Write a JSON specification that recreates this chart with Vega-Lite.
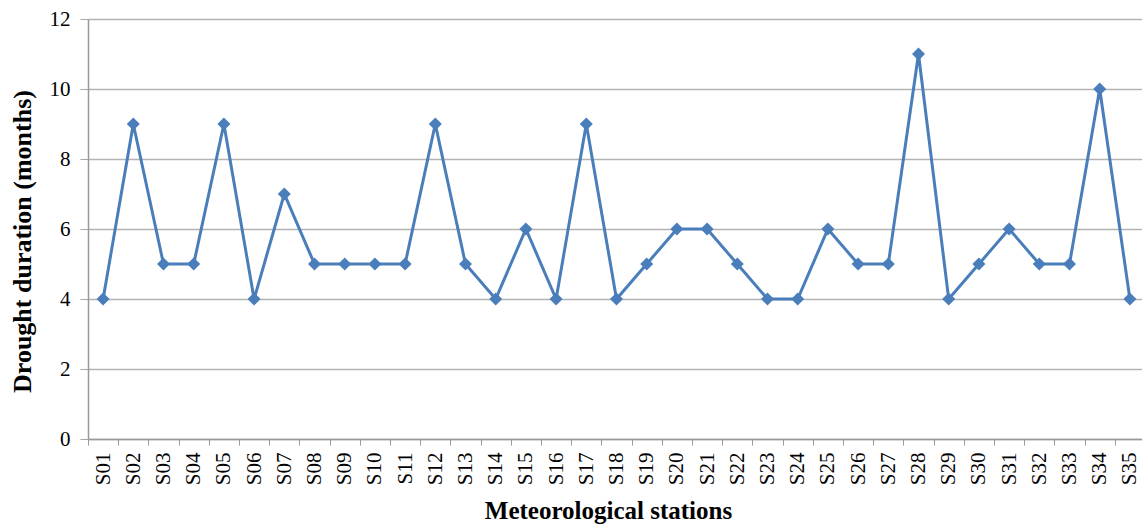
{
  "$schema": "https://vega.github.io/schema/vega-lite/v6.json",
  "autosize": "none",
  "width": 1057,
  "height": 420,
  "padding": {"left": 88, "top": 19, "right": 0, "bottom": 87},
  "background": "white",
  "config": {
    "view": {"stroke": null},
    "font": "Liberation Serif"
  },
  "data": {
    "values": [
      {"station": "S01", "duration": 4},
      {"station": "S02", "duration": 9},
      {"station": "S03", "duration": 5},
      {"station": "S04", "duration": 5},
      {"station": "S05", "duration": 9},
      {"station": "S06", "duration": 4},
      {"station": "S07", "duration": 7},
      {"station": "S08", "duration": 5},
      {"station": "S09", "duration": 5},
      {"station": "S10", "duration": 5},
      {"station": "S11", "duration": 5},
      {"station": "S12", "duration": 9},
      {"station": "S13", "duration": 5},
      {"station": "S14", "duration": 4},
      {"station": "S15", "duration": 6},
      {"station": "S16", "duration": 4},
      {"station": "S17", "duration": 9},
      {"station": "S18", "duration": 4},
      {"station": "S19", "duration": 5},
      {"station": "S20", "duration": 6},
      {"station": "S21", "duration": 6},
      {"station": "S22", "duration": 5},
      {"station": "S23", "duration": 4},
      {"station": "S24", "duration": 4},
      {"station": "S25", "duration": 6},
      {"station": "S26", "duration": 5},
      {"station": "S27", "duration": 5},
      {"station": "S28", "duration": 11},
      {"station": "S29", "duration": 4},
      {"station": "S30", "duration": 5},
      {"station": "S31", "duration": 6},
      {"station": "S32", "duration": 5},
      {"station": "S33", "duration": 5},
      {"station": "S34", "duration": 10},
      {"station": "S35", "duration": 4}
    ]
  },
  "encoding": {
    "x": {
      "field": "station",
      "type": "ordinal",
      "scale": {"type": "band", "paddingInner": 0, "paddingOuter": 0},
      "axis": {
        "title": "Meteorological stations",
        "titleFont": "Liberation Serif",
        "titleFontSize": 25,
        "titleFontWeight": "bold",
        "titleColor": "black",
        "titlePadding": 14,
        "titleX": 520,
        "labelAngle": -90,
        "labelFont": "Liberation Serif",
        "labelFontSize": 21,
        "labelColor": "black",
        "labelPadding": 7,
        "tickBand": "extent",
        "tickSize": 6,
        "tickColor": "#999999",
        "domainColor": "#999999",
        "domainWidth": 1.5,
        "grid": false
      }
    },
    "y": {
      "field": "duration",
      "type": "quantitative",
      "scale": {"domain": [0, 12], "nice": false},
      "axis": {
        "title": "Drought duration (months)",
        "titleFont": "Liberation Serif",
        "titleFontSize": 26,
        "titleFontWeight": "bold",
        "titleColor": "black",
        "titlePadding": 14,
        "titleY": 222,
        "values": [0, 2, 4, 6, 8, 10, 12],
        "labelFont": "Liberation Serif",
        "labelFontSize": 21,
        "labelColor": "black",
        "labelPadding": 10,
        "tickSize": 8,
        "tickColor": "#a6a6a6",
        "domainColor": "#999999",
        "domainWidth": 1.5,
        "grid": true,
        "gridColor": "#b3b3b3",
        "gridWidth": 1.5
      }
    }
  },
  "layer": [
    {
      "mark": {"type": "line", "color": "#4a7ebb", "strokeWidth": 3}
    },
    {
      "mark": {"type": "point", "shape": "diamond", "filled": true, "color": "#4a7ebb", "opacity": 1, "size": 170}
    }
  ]
}
